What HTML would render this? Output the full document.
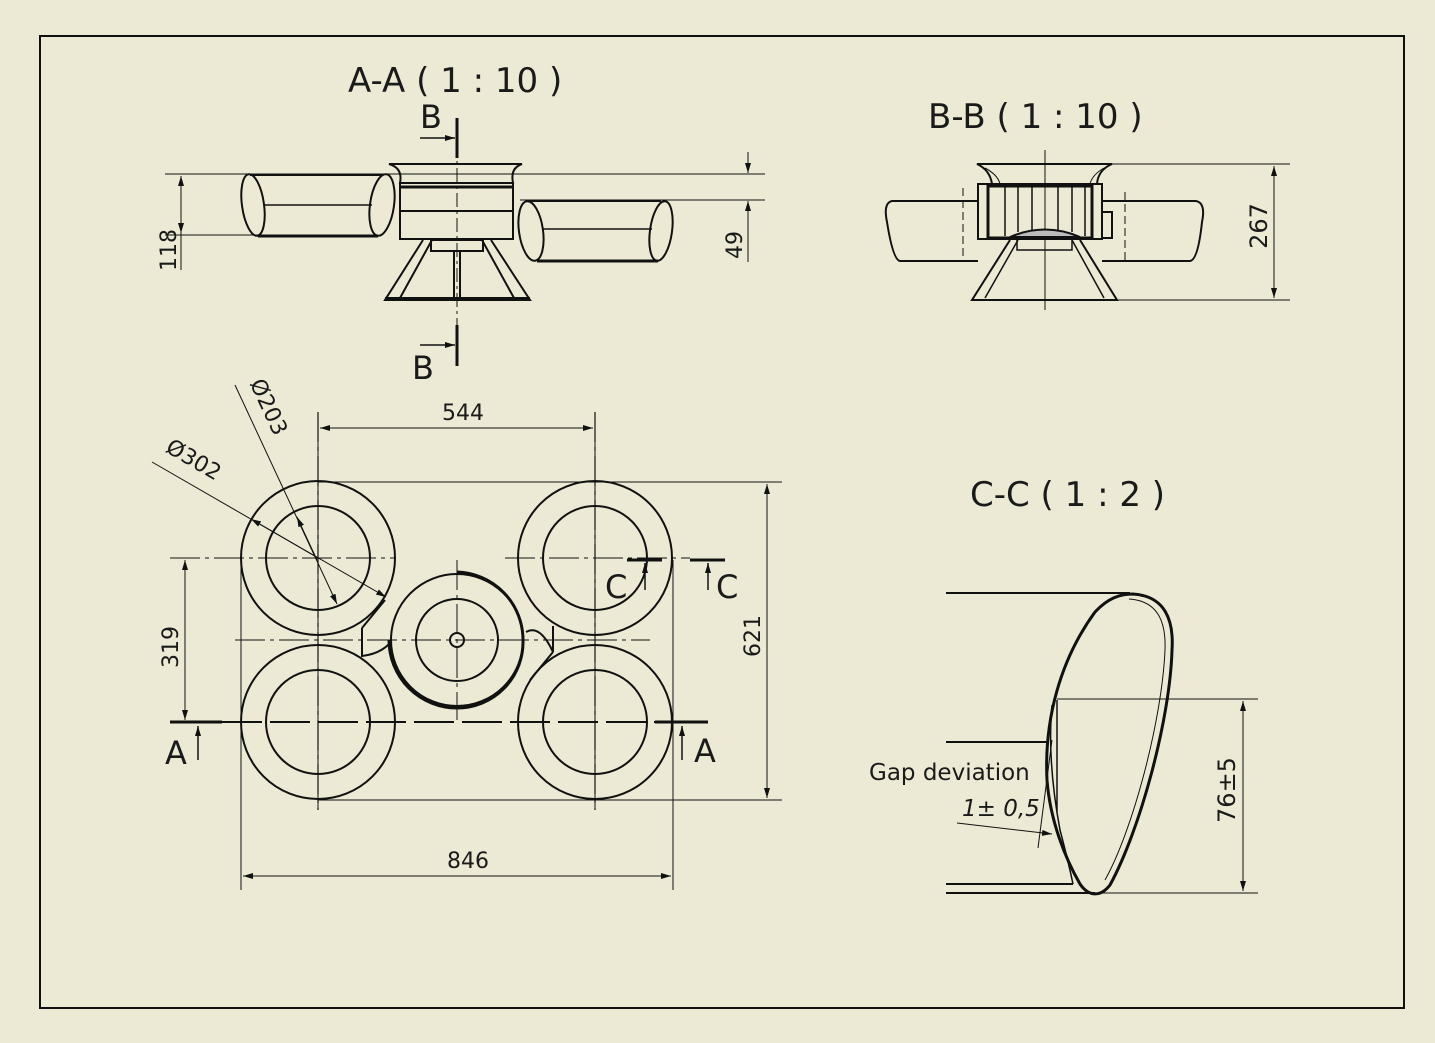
<!DOCTYPE html>
<html><head><meta charset="utf-8"><style>
html,body{margin:0;padding:0;background:#ECEAD4;}
svg{display:block}
text{font-family:"DejaVu Sans","Liberation Sans",sans-serif;fill:#1a1a1a}
</style></head><body>
<svg width="1435" height="1043" viewBox="0 0 1435 1043" xmlns="http://www.w3.org/2000/svg">
<defs>
<marker id="ar" viewBox="0 0 10 6" refX="10" refY="3" markerWidth="10" markerHeight="6" orient="auto-start-reverse" markerUnits="userSpaceOnUse"><path d="M0,0 L10,3 L0,6z" fill="#111"/></marker>
</defs>
<rect x="0" y="0" width="1435" height="1043" fill="#ECEAD4"/>
<rect x="40" y="36" width="1364" height="972" fill="none" stroke="#111" stroke-width="2"/>

<g fill="none" stroke="#111">
<!-- ===== A-A view ===== -->
<g stroke-width="1">
<line x1="165" y1="174" x2="765" y2="174"/>
<line x1="520" y1="200" x2="765" y2="200"/>
<line x1="165" y1="235" x2="258" y2="235"/>
<line x1="181" y1="176" x2="181" y2="270" marker-start="url(#ar)"/>
<line x1="181" y1="200" x2="181" y2="233" marker-end="url(#ar)"/>
<line x1="748" y1="152" x2="748" y2="173" marker-end="url(#ar)"/>
<line x1="748" y1="226" x2="748" y2="201" marker-end="url(#ar)"/>
<line x1="748" y1="226" x2="748" y2="262"/>
<line x1="457" y1="118" x2="457" y2="330" stroke-dasharray="14,4,3,4"/>
</g>
<!-- left cylinder -->
<g stroke-width="2">
<ellipse cx="253" cy="205" rx="11" ry="31" transform="rotate(-8 253 205)"/>
<ellipse cx="382" cy="205" rx="12" ry="31" transform="rotate(8 382 205)"/>
<line x1="250" y1="175" x2="382" y2="175"/>
<line x1="258" y1="236" x2="378" y2="236" stroke-width="3"/>
<line x1="264" y1="205" x2="372" y2="205" stroke-width="1.5"/>
<!-- right cylinder -->
<ellipse cx="531" cy="231" rx="12" ry="30" transform="rotate(-8 531 231)"/>
<ellipse cx="661" cy="231" rx="11" ry="30" transform="rotate(8 661 231)"/>
<line x1="527" y1="201" x2="661" y2="201"/>
<line x1="537" y1="261" x2="658" y2="261" stroke-width="3"/>
<line x1="543" y1="229" x2="652" y2="229" stroke-width="1.5"/>
<!-- hub -->
<path d="M389,164 L522,164 Q510,168 513,183 L400,183 Q403,168 389,164 Z"/>
<rect x="400" y="183" width="113" height="56"/>
<line x1="400" y1="187" x2="513" y2="187" stroke-width="3"/>
<line x1="400" y1="211" x2="513" y2="211"/>
<rect x="431" y="240" width="52" height="11"/>
<path d="M423,240 L385,300 L530,300 L491,240"/>
<path d="M432,240 L400,298 M482,240 L514,298"/>
<line x1="385" y1="299" x2="530" y2="299" stroke-width="4"/>
<line x1="454" y1="250" x2="454" y2="298"/><line x1="460" y1="250" x2="460" y2="298"/>
</g>
<!-- B markers -->
<g stroke-width="3"><line x1="457" y1="118" x2="457" y2="158"/><line x1="457" y1="325" x2="457" y2="366"/></g>
<line x1="420" y1="138" x2="455" y2="138" stroke-width="1.5" marker-end="url(#ar)"/>
<line x1="420" y1="345" x2="455" y2="345" stroke-width="1.5" marker-end="url(#ar)"/>

<!-- ===== B-B view ===== -->
<g stroke-width="1">
<line x1="1110" y1="164" x2="1290" y2="164"/>
<line x1="1117" y1="300" x2="1290" y2="300"/>
<line x1="1274" y1="166" x2="1274" y2="298" marker-start="url(#ar)" marker-end="url(#ar)"/>
<line x1="1045" y1="150" x2="1045" y2="310"/>
<line x1="963" y1="188" x2="963" y2="262" stroke-dasharray="8,4"/>
<line x1="1125" y1="192" x2="1125" y2="262" stroke-dasharray="8,4"/>
</g>
<g stroke-width="2">
<path d="M978,201 L892,201 Q883,203 887,222 Q893,260 900,261 L978,261"/>
<path d="M1102,201 L1196,201 Q1206,203 1202,222 Q1198,260 1190,261 L1102,261"/>
<path d="M977,164 L1112,164 Q1098,170 1097,184 L992,184 Q990,170 977,164 Z"/>
<path d="M985,168 Q998,175 1000,184 M1104,168 Q1092,175 1090,184" stroke-width="1"/>
<rect x="978" y="184" width="124" height="55"/>
<rect x="988" y="186" width="104" height="52" stroke-width="3"/>
<rect x="1102" y="212" width="10" height="26"/>
<g stroke-width="1.5"><line x1="1005" y1="186" x2="1005" y2="236"/><line x1="1018" y1="186" x2="1018" y2="232"/><line x1="1032" y1="186" x2="1032" y2="230"/><line x1="1058" y1="186" x2="1058" y2="230"/><line x1="1072" y1="186" x2="1072" y2="232"/><line x1="1085" y1="186" x2="1085" y2="236"/></g>
<path d="M1010,237 Q1045,222 1080,237 Z" fill="#bbb"/>
<path d="M1017,239 L1017,250 L1072,250 L1072,239" stroke-width="1.5"/>
<path d="M1010,240 L972,300 L1117,300 L1080,240"/>
<path d="M1018,240 L985,298 M1072,240 L1104,298" stroke-width="1.5"/>
<line x1="972" y1="300" x2="1117" y2="300" stroke-width="2"/>
</g>

<!-- ===== Plan view ===== -->
<g stroke-width="1">
<line x1="318" y1="412" x2="318" y2="810"/>
<line x1="595" y1="412" x2="595" y2="810"/>
<line x1="320" y1="428" x2="593" y2="428" marker-start="url(#ar)" marker-end="url(#ar)"/>
<line x1="318" y1="482" x2="782" y2="482"/>
<line x1="318" y1="800" x2="782" y2="800"/>
<line x1="767" y1="484" x2="767" y2="798" marker-start="url(#ar)" marker-end="url(#ar)"/>
<line x1="241" y1="560" x2="241" y2="890"/>
<line x1="673" y1="560" x2="673" y2="890"/>
<line x1="243" y1="876" x2="671" y2="876" marker-start="url(#ar)" marker-end="url(#ar)"/>
<line x1="170" y1="558" x2="395" y2="558" stroke-dasharray="30,5,4,5"/>
<line x1="505" y1="558" x2="690" y2="558" stroke-dasharray="30,5,4,5"/>
<line x1="185" y1="560" x2="185" y2="720" marker-start="url(#ar)" marker-end="url(#ar)"/>
<line x1="235" y1="640" x2="650" y2="640" stroke-dasharray="30,5,4,5"/>
<line x1="457" y1="560" x2="457" y2="720" stroke-dasharray="30,5,4,5"/>
<line x1="235" y1="385" x2="337" y2="604" marker-end="url(#ar)"/>
<line x1="317" y1="560" x2="297" y2="517" marker-end="url(#ar)"/>
<line x1="152" y1="462" x2="386" y2="597" marker-end="url(#ar)"/>
<line x1="318" y1="558" x2="251" y2="519" marker-end="url(#ar)"/>
</g>
<line x1="222" y1="722" x2="660" y2="722" stroke-width="2" stroke-dasharray="40,8"/>
<g stroke-width="2">
<circle cx="318" cy="558" r="77"/><circle cx="318" cy="558" r="52"/>
<circle cx="595" cy="558" r="77"/><circle cx="595" cy="558" r="52"/>
<circle cx="318" cy="722" r="77"/><circle cx="318" cy="722" r="52"/>
<circle cx="595" cy="722" r="77"/><circle cx="595" cy="722" r="52"/>
<circle cx="457" cy="640" r="66"/><circle cx="457" cy="640" r="41"/><circle cx="457" cy="640" r="7"/>
<path d="M457,572 A68,68 0 0 1 523,640 A66,66 0 0 1 457,708 A68,68 0 0 1 389,640" stroke-width="3"/>
<path d="M362,628 L385,600 M362,628 L362,656 Q380,654 390,643 M553,652 Q540,624 526,632 M553,626 L553,652 M553,652 L530,680"/>
</g>
<g stroke-width="1.2">
<line x1="318" y1="412" x2="318" y2="810" stroke-dasharray="30,5,4,5"/>
<line x1="595" y1="412" x2="595" y2="810" stroke-dasharray="30,5,4,5"/>
</g>
<g stroke-width="3">
<line x1="170" y1="722" x2="222" y2="722"/><line x1="655" y1="722" x2="708" y2="722"/>
<line x1="627" y1="560" x2="662" y2="560"/><line x1="690" y1="560" x2="725" y2="560"/>
</g>
<g stroke-width="1.5">
<line x1="198" y1="760" x2="198" y2="726" marker-end="url(#ar)"/>
<line x1="682" y1="760" x2="682" y2="726" marker-end="url(#ar)"/>
<line x1="645" y1="590" x2="645" y2="563" marker-end="url(#ar)"/>
<line x1="708" y1="590" x2="708" y2="563" marker-end="url(#ar)"/>
</g>

<!-- ===== C-C view ===== -->
<g stroke-width="1">
<line x1="1057" y1="699" x2="1258" y2="699"/>
<line x1="946" y1="893" x2="1258" y2="893"/>
<line x1="1243" y1="701" x2="1243" y2="891" marker-start="url(#ar)" marker-end="url(#ar)"/>
<line x1="957" y1="823" x2="1052" y2="834" marker-end="url(#ar)"/>
<line x1="1038" y1="848" x2="1052" y2="740"/>
</g>
<g stroke-width="2">
<line x1="946" y1="593" x2="1130" y2="593"/>
<line x1="946" y1="742" x2="1047" y2="742"/>
<line x1="946" y1="884" x2="1073" y2="884"/>
<line x1="946" y1="893" x2="1095" y2="893"/>
<path d="M1133,594 C1165,596 1174,620 1172,650 C1170,720 1140,830 1110,885 C1100,898 1088,896 1080,884 C1065,858 1050,820 1047,780 C1044,720 1060,660 1095,612 C1108,598 1120,594 1133,594 Z" stroke-width="3"/>
<path d="M1129,599 C1160,601 1166,625 1165,650 C1162,720 1133,830 1105,880" stroke-width="1"/>
<path d="M1057,700 L1057,812 M1052,705 Q1047,760 1060,830 Q1068,860 1073,884" stroke-width="1.5"/>
</g>
</g>

<!-- Texts -->
<text x="348" y="92" font-size="34">A-A ( 1 : 10 )</text>
<text x="928" y="128" font-size="34">B-B ( 1 : 10 )</text>
<text x="970" y="506" font-size="34">C-C ( 1 : 2 )</text>
<text x="420" y="128" font-size="32">B</text>
<text x="412" y="379" font-size="32">B</text>
<text x="176" y="250" font-size="22" transform="rotate(-90 176 250)" text-anchor="middle">118</text>
<text x="742" y="245" font-size="22" transform="rotate(-90 742 245)" text-anchor="middle">49</text>
<text x="1267" y="226" font-size="24" transform="rotate(-90 1267 226)" text-anchor="middle">267</text>
<text x="463" y="420" font-size="22" text-anchor="middle">544</text>
<text x="468" y="868" font-size="22" text-anchor="middle">846</text>
<text x="760" y="636" font-size="22" transform="rotate(-90 760 636)" text-anchor="middle">621</text>
<text x="178" y="647" font-size="22" transform="rotate(-90 178 647)" text-anchor="middle">319</text>
<text x="262" y="410" font-size="22" transform="rotate(65 262 410)" text-anchor="middle">Ø203</text>
<text x="190" y="466" font-size="22" transform="rotate(30 190 466)" text-anchor="middle">Ø302</text>
<text x="165" y="764" font-size="32">A</text>
<text x="694" y="762" font-size="32">A</text>
<text x="605" y="598" font-size="32">C</text>
<text x="716" y="598" font-size="32">C</text>
<text x="869" y="780" font-size="23">Gap deviation</text>
<text x="962" y="816" font-size="23" font-style="italic">1± 0,5</text>
<text x="1235" y="790" font-size="24" transform="rotate(-90 1235 790)" text-anchor="middle">76±5</text>
</svg>
</body></html>
